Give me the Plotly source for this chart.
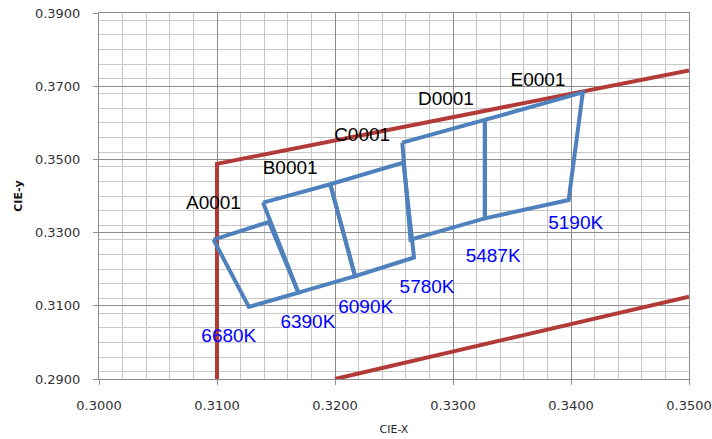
import plotly.graph_objects as go

# Boundary lines (red)
upper_x = [0.3100, 0.3100, 0.3500]
upper_y = [0.2900, 0.3488, 0.3743]
lower_x = [0.3200, 0.3500]
lower_y = [0.2900, 0.3125]

# Bin outlines (blue)
binA_x = [0.3097, 0.3144, 0.3169, 0.3127, 0.3097]
binA_y = [0.3281, 0.3329, 0.3136, 0.3097, 0.3281]
binB_x = [0.3139, 0.3196, 0.3217, 0.3169, 0.3139]
binB_y = [0.3382, 0.3432, 0.3181, 0.3136, 0.3382]
binC_x = [0.3196, 0.3258, 0.3267, 0.3217, 0.3196]
binC_y = [0.3432, 0.3491, 0.3232, 0.3181, 0.3432]
binD_x = [0.3257, 0.3327, 0.3327, 0.3264, 0.3257]
binD_y = [0.3546, 0.3608, 0.3339, 0.3281, 0.3546]
binE_x = [0.3327, 0.3410, 0.3398, 0.3327, 0.3327]
binE_y = [0.3608, 0.3683, 0.3389, 0.3339, 0.3608]

# Black bin labels
bin_labels = ["A0001", "B0001", "C0001", "D0001", "E0001"]
bin_label_x = [0.3097, 0.3162, 0.3223, 0.3294, 0.3372]
bin_label_y = [0.3377, 0.3473, 0.3564, 0.3662, 0.3713]

# Blue CCT labels
cct_labels = ["6680K", "6390K", "6090K", "5780K", "5487K", "5190K"]
cct_x = [0.3110, 0.3177, 0.3226, 0.3278, 0.3334, 0.3404]
cct_y = [0.3015, 0.3053, 0.3092, 0.3147, 0.3234, 0.3322]

red = "#B23B37"
blue = "#4F81BD"

fig = go.Figure()
fig.add_trace(go.Scatter(x=upper_x, y=upper_y, mode="lines",
                         line=dict(color=red, width=4), hoverinfo="skip"))
fig.add_trace(go.Scatter(x=lower_x, y=lower_y, mode="lines",
                         line=dict(color=red, width=4), hoverinfo="skip"))
for bx, by in [(binA_x, binA_y), (binB_x, binB_y), (binC_x, binC_y),
               (binD_x, binD_y), (binE_x, binE_y)]:
    fig.add_trace(go.Scatter(x=bx, y=by, mode="lines",
                             line=dict(color=blue, width=4), hoverinfo="skip"))

fig.add_trace(go.Scatter(x=bin_label_x, y=bin_label_y, mode="text", text=bin_labels,
                         textfont=dict(family="Liberation Sans, Arial", size=19, color="#000000"),
                         hoverinfo="skip"))
fig.add_trace(go.Scatter(x=cct_x, y=cct_y, mode="text", text=cct_labels,
                         textfont=dict(family="Liberation Sans, Arial", size=19, color="#0000FF"),
                         hoverinfo="skip"))

axis_common = dict(
    showgrid=True, gridcolor="#8C8C8C", gridwidth=1,
    showline=True, linecolor="#8C8C8C", linewidth=1, mirror=True,
    ticks="outside", ticklen=5, tickcolor="#8C8C8C",
    tickformat=".4f", zeroline=False, automargin=False,
    tickfont=dict(family="DejaVu Sans", size=13, color="#333333"),
)

fig.update_xaxes(range=[0.30, 0.35], dtick=0.01, tick0=0.30,
                 minor=dict(dtick=0.002, showgrid=True, gridcolor="#C8C8C8"),
                 title=dict(text="CIE-X", font=dict(family="DejaVu Sans", size=11, color="#222222"),
                            standoff=13),
                 ticklabelstandoff=9,
                 **axis_common)
fig.update_yaxes(range=[0.29, 0.39], dtick=0.02, tick0=0.29,
                 minor=dict(dtick=0.004, showgrid=True, gridcolor="#C8C8C8"),
                 title=dict(text="<b>CIE-y</b>", font=dict(family="DejaVu Sans", size=11, color="#111111"),
                            standoff=10),
                 ticklabelstandoff=10,
                 **axis_common)

fig.update_layout(
    width=712, height=439,
    margin=dict(l=99, r=23, t=13, b=60),
    paper_bgcolor="white", plot_bgcolor="white",
    showlegend=False,
)

fig.write_html("out.html", config={"displayModeBar": False},
               post_script="document.body.style.margin='0px';")
